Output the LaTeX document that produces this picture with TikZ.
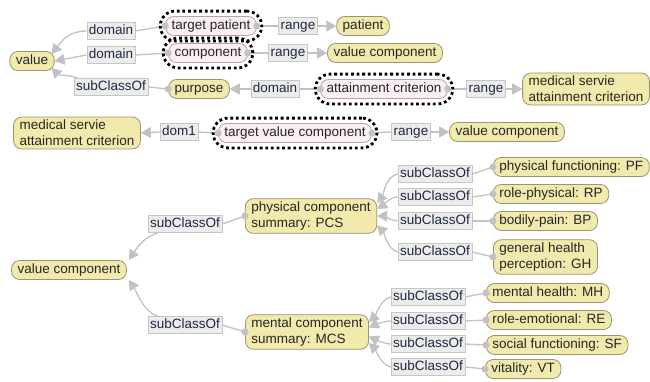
\documentclass[tikz,border=0pt]{standalone}
\usepackage{fontspec}
\setmainfont{Liberation Sans}
\usepackage{tikz}
\usetikzlibrary{arrows.meta}
\usetikzlibrary{fit}
\definecolor{clsfill}{HTML}{F2E9AC}
\definecolor{clsdraw}{HTML}{9A9472}
\definecolor{tgtfill}{HTML}{FDEEF2}
\definecolor{tgtdraw}{HTML}{B4A4A8}
\definecolor{relfill}{HTML}{ECECEC}
\definecolor{reldraw}{HTML}{C6C6C6}
\definecolor{linkcol}{HTML}{C2C2C2}
\definecolor{reltext}{HTML}{1F2844}

\begin{document}
\begin{tikzpicture}[x=1pt,y=-1pt,
            font=\fontsize{13.5}{16}\selectfont,
            cls/.style={draw=clsdraw, fill=clsfill, line width=0.8pt, rounded corners=8pt,
                inner xsep=6pt, inner ysep=3pt, text height=10pt, text depth=3pt, text=black!85},
            cls2/.style={draw=clsdraw, fill=clsfill, line width=0.8pt, rounded corners=8pt,
                inner xsep=6pt, inner ysep=3pt, align=left, text=black!85},
            tgt/.style={cls, draw=tgtdraw, fill=tgtfill},
            rel/.style={draw=reldraw, fill=relfill, line width=0.6pt, inner xsep=2pt, inner ysep=2pt,
                text height=10pt, text depth=3pt, text=reltext},
            ring/.style={draw=black, line width=2.8pt, dash pattern=on 2.8pt off 2.8pt,
                rounded corners=15pt, inner sep=5pt},
            link/.style={draw=linkcol, line width=1.3pt},
            src/.style={link, {Circle[length=7pt]}-, shorten <=-3.5pt},
            dst/.style={link, -{Triangle[length=10pt,width=11pt]}}
            ]
            \useasboundingbox (0,0) rectangle (650,381);

            % The classes
            \node[cls] (val) at (32,61) {value};
            \node[tgt] (tpat) at (211,26) {target patient};
            \node[tgt] (comp) at (208,53) {component};
            \node[cls] (pat) at (363,26) {patient};
            \node[cls] (vcomp) at (385,53) {value component};
            \node[cls] (purp) at (199,89) {purpose};
            \node[tgt] (attc) at (384,89) {attainment criterion};
            \node[cls2] (msac) at (586,89) {medical servie\\attainment criterion};
            \node[cls2] (msacb) at (77,133) {medical servie\\attainment criterion};
            \node[tgt] (tvc) at (295,133) {target value component};
            \node[cls] (vcompb) at (507,132) {value component};

            \node[cls] (vcroot) at (69,270) {value component};
            \node[cls2] (pcs) at (311,216) {physical component\\summary: PCS};
            \node[cls2] (mcs) at (307,332) {mental component\\summary: MCS};
            \node[cls, anchor=west] (pf) at (493,167) {physical functioning: PF};
            \node[cls, anchor=west] (rp) at (493,194) {role-physical: RP};
            \node[cls, anchor=west] (bp) at (493,221) {bodily-pain: BP};
            \node[cls2, anchor=west] (gh) at (493,257) {general health\\perception: GH};
            \node[cls, anchor=west] (mh) at (486,293) {mental health: MH};
            \node[cls, anchor=west] (re) at (486,320) {role-emotional: RE};
            \node[cls, anchor=west] (sf) at (486,345) {social functioning: SF};
            \node[cls, anchor=west] (vt) at (485,369) {vitality: VT};

            % The relations
            \node[rel] (d1) at (111,31) {domain};
            \node[rel] (d2) at (111,55) {domain};
            \node[rel] (s1) at (111,87) {subClassOf};
            \node[rel] (r1) at (298,26) {range};
            \node[rel] (r2) at (288,53) {range};
            \node[rel] (d3) at (275,89) {domain};
            \node[rel] (r3) at (486,89) {range};
            \node[rel] (dm1) at (179,132) {dom1};
            \node[rel] (r4) at (411,132) {range};

            \node[rel] (s2) at (185,224) {subClassOf};
            \node[rel] (s3) at (185,325) {subClassOf};
            \node[rel] (s4) at (435,174) {subClassOf};
            \node[rel] (s5) at (435,197) {subClassOf};
            \node[rel] (s6) at (435,221) {subClassOf};
            \node[rel] (s7) at (435,252) {subClassOf};
            \node[rel] (s8) at (428,297) {subClassOf};
            \node[rel] (s9) at (428,321) {subClassOf};
            \node[rel] (s10) at (428,344) {subClassOf};
            \node[rel] (s11) at (428,367) {subClassOf};

            % The links
            \draw[src] (tpat.west) -- (d1.east);
            \draw[dst] (d1.west) .. controls +(-20,0) and +(8,-10) .. ([xshift=-3pt,yshift=-3pt]val.north east);
            \draw[src] (comp.west) -- (d2.east);
            \draw[dst] (d2.west) -- (val.east);
            \draw[src] (purp.west) -- (s1.east);
            \draw[dst] ([xshift=4pt]s1.north west) .. controls +(-10,-4) and +(8,8) .. ([xshift=-3pt,yshift=3pt]val.south east);
            \draw[src] (tpat.east) -- (r1.west);
            \draw[dst] (r1.east) -- (pat.west);
            \draw[src] (comp.east) -- (r2.west);
            \draw[dst] (r2.east) -- (vcomp.west);
            \draw[src] (attc.west) -- (d3.east);
            \draw[dst] (d3.west) -- (purp.east);
            \draw[src] (attc.east) -- (r3.west);
            \draw[dst] (r3.east) -- (msac.west);
            \draw[src] (tvc.west) -- (dm1.east);
            \draw[dst] (dm1.west) -- (msacb.east);
            \draw[src] (tvc.east) -- (r4.west);
            \draw[dst] (r4.east) -- (vcompb.west);

            \draw[src] (pcs.west) -- (s2.east);
            \draw[dst] ([xshift=10pt]s2.south west) .. controls +(-15,5) and +(8,-12) .. ([xshift=2pt]vcroot.north east);
            \draw[src] (mcs.west) -- (s3.east);
            \draw[dst] ([xshift=10pt]s3.north west) .. controls +(-15,-5) and +(8,12) .. ([xshift=2pt]vcroot.south east);

            \draw[src] (pf.west) -- (s4.east);
            \draw[src] (rp.west) -- (s5.east);
            \draw[src] (bp.west) -- (s6.east);
            \draw[src] (gh.west) -- (s7.east);
            \draw[dst] (s4.west) .. controls +(-12,2) and +(6,-8) .. (pcs.11);
            \draw[dst] (s5.west) .. controls +(-8,0) and +(6,-4) .. (pcs.6);
            \draw[dst] (s6.west) .. controls +(-6,0) and +(6,0) .. (pcs.0);
            \draw[dst] (s7.west) .. controls +(-10,-2) and +(6,6) .. (pcs.-8);

            \draw[src] (mh.west) -- (s8.east);
            \draw[src] (re.west) -- (s9.east);
            \draw[src] (sf.west) -- (s10.east);
            \draw[src] (vt.west) -- (s11.east);
            \draw[dst] (s8.west) .. controls +(-10,2) and +(6,-6) .. (mcs.9);
            \draw[dst] (s9.west) .. controls +(-6,0) and +(6,-3) .. (mcs.4);
            \draw[dst] (s10.west) .. controls +(-6,0) and +(6,3) .. (mcs.-4);
            \draw[dst] (s11.west) .. controls +(-10,-2) and +(6,6) .. (mcs.-10);

            % The marked ones
            \node[ring, fit=(tpat)] (tpatring) {};
            \node[ring, fit=(comp)] (compring) {};
            \node[ring, fit=(attc)] (attcring) {};
            \node[ring, fit=(tvc)] (tvcring) {};
        \end{tikzpicture}
\end{document}
